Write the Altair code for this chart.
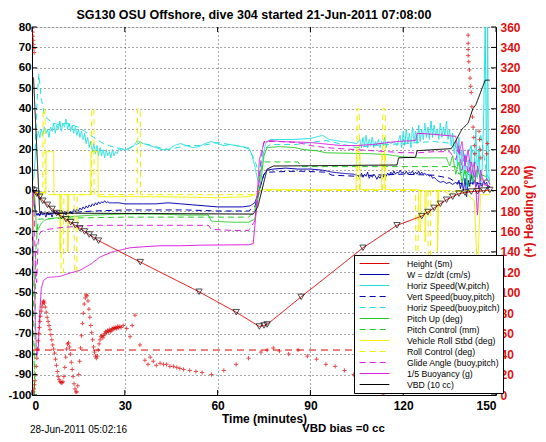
import altair as alt
import pandas as pd

TITLE = "SG130 OSU Offshore, dive 304 started 21-Jun-2011 07:08:00"
X_TITLE = "Time (minutes)"
Y2_TITLE = "(+) Heading (°M)"
FOOT_LEFT = "28-Jun-2011 05:02:16"
FOOT_RIGHT = "VBD bias =0 cc"

x_ticks = [0, 30, 60, 90, 120, 150]
left_ticks = list(range(-100, 81, 10))
right_ticks = list(range(0, 361, 20))
target_heading = [44]

series_names = ["Height (5m)", "W = dz/dt (cm/s)", "Horiz Speed(W,pitch)",
                "Vert Speed(buoy,pitch)", "Horiz Speed(buoy,pitch)", "Pitch Up (deg)",
                "Pitch Control (mm)", "Vehicle Roll Stbd (deg)", "Roll Control (deg)",
                "Glide Angle (buoy,pitch)", "1/5 Buoyancy (g)", "VBD (10 cc)"]
series_colors = ["#e00000", "#0000b0", "#22e0e0", "#0000b0", "#22e0e0", "#22cc22",
                 "#22cc22", "#f0f000", "#f0f000", "#e020e0", "#e020e0", "#000000"]
series_dash = [[1, 0], [1, 0], [1, 0], [6, 4], [6, 4], [1, 0],
               [6, 4], [1, 0], [6, 4], [6, 4], [1, 0], [1, 0]]

height = [(0, 0.5), (0.7, 0), (1.5, -1.5), (2.5, -3), (3.5, -5), (5, -7), (6.5, -9),
          (8, -11), (9.5, -12.5), (11, -14), (12.5, -15.5), (14, -17), (15.5, -18.5),
          (17, -20), (18.5, -21.5), (20, -23), (21.5, -24.5), (35, -35), (54, -49.5),
          (66, -59.5), (73.5, -66.5), (75, -66), (76, -65.5), (87, -52), (107, -28),
          (118, -17), (126, -12.5), (128, -10.5), (130, -8.5), (132, -6.5), (134, -4.5),
          (136, -3), (138, -1.5), (140, -1), (142, -0.5), (144, -0.3), (146, 0), (148, 0.3)]

w_speed = [(0, 0), (0.5, -3), (1, -9), (1.5, -12), (2, -11), (2.5, -12.5), (3, -10), (3.5, -12),
           (4, -11), (4.5, -13), (5, -10.5), (5.5, -12), (6, -11), (6.5, -13), (7, -10),
           (7.5, -11.5), (8, -10), (8.5, -12), (9, -11), (9.5, -9.5), (10, -11), (10.5, -10),
           (11, -12), (11.5, -9.5), (12, -11), (12.5, -10), (13, -11.5), (13.5, -9), (14, -10.5),
           (14.5, -9), (15, -10), (15.5, -8.5), (16, -9.5), (16.5, -8), (17, -9), (17.5, -7.5),
           (18, -8.5), (18.5, -7), (19, -8), (19.5, -6.5), (20, -7.5), (20.5, -6), (21, -7),
           (21.5, -5.5), (22, -6.5), (22.5, -5.5), (23, -6), (23.5, -5), (24, -6), (24.5, -5.5),
           (25, -6), (26, -6), (28, -6), (30, -6.5), (33, -6.5), (36, -6.5), (40, -6.5),
           (44, -6), (48, -6.5), (52, -7), (56, -7.5), (60, -8), (64, -8), (68, -8), (70.5, -7.5),
           (72, -6), (73, -2), (74, 3), (75, 8), (76, 10), (78, 10.5), (82, 11), (86, 10.5),
           (90, 10.5), (94, 10), (97, 9), (100, 8.5), (104, 8), (106, 7), (106.5, 8.5), (107, 6.5),
           (107.5, 8), (108, 7), (108.5, 9), (109, 6), (109.5, 7.5), (110, 6.5), (110.5, 8),
           (111, 7), (111.5, 5.5), (112, 7), (112.5, 6), (113, 7.5), (113.5, 6.5), (114, 8),
           (114.5, 7), (115, 8.5), (115.5, 7.5), (116, 9), (116.5, 8), (117, 9.5), (117.5, 8),
           (118, 9), (118.5, 8.5), (119, 10), (119.5, 8.5), (120, 9), (120.5, 8), (121, 9.5),
           (121.5, 8), (122, 9), (122.5, 8.5), (123, 9.5), (123.5, 8), (124, 9), (124.5, 8),
           (125, 9.5), (125.5, 8), (126, 9), (126.5, 8), (127, 8.5), (127.5, 7.5), (128, 8),
           (128.5, 7), (129, 7.5), (129.5, 6), (130, 6.5), (131, 5), (132, 4), (133, 4.5),
           (134, 3.5), (135, 4), (136, 3), (137, 4), (137.5, 3), (138, 5), (138.5, 1), (139, 4),
           (139.5, 0), (140, 6), (140.5, -3), (141, 5), (141.5, 2), (142, 8), (142.5, 3),
           (143, 5), (143.5, 2), (144, 4), (144.5, 1), (145, 3), (145.5, 2), (146, 5), (146.5, 3),
           (147, 4), (147.5, 1), (148, 2)]

horiz_w = [(0.5, 5), (1, 15), (1.5, 25), (2, 29), (2.5, 26), (3, 30), (3.5, 27), (4, 31),
           (4.5, 28), (5, 30), (5.5, 26), (6, 31), (6.5, 29), (7, 33), (7.5, 28), (8, 32),
           (8.5, 30), (9, 34), (9.5, 29), (10, 33), (10.5, 31), (11, 35), (11.5, 30), (12, 33),
           (12.5, 29), (13, 32), (13.5, 28), (14, 31), (14.5, 27), (15, 30), (15.5, 26), (16, 29),
           (16.5, 25), (17, 28), (17.5, 23), (18, 26), (18.5, 21), (19, 24), (19.5, 19), (20, 23),
           (20.5, 18), (21, 22), (21.5, 17), (22, 21), (22.5, 17), (23, 20), (23.5, 16), (24, 20),
           (24.5, 17), (25, 19), (25.5, 16), (26, 20), (26.5, 17), (27, 19), (27.5, 18), (28, 20),
           (29, 20), (31, 20), (33, 22), (34, 24.5), (36, 23), (38, 22), (40, 21), (42, 20),
           (44, 20), (46, 22), (48, 23), (50, 22), (52, 21), (54, 21.5), (56, 23), (58, 24),
           (60, 23), (62, 22), (64, 22.5), (66, 22), (68, 21.5), (70, 21), (71, 18), (72, 12),
           (73, 5), (73.5, 4), (74.5, 15), (75.5, 23), (77, 25), (80, 25), (85, 25), (90, 25.5),
           (94, 27), (96, 25), (100, 24), (103, 23.5), (105, 23), (106, 25), (106.5, 21),
           (107, 26), (107.5, 22), (108, 27), (108.5, 21), (109, 25), (109.5, 22), (110, 26),
           (110.5, 21), (111, 24), (111.5, 22), (112, 25), (112.5, 21), (113, 24), (113.5, 22),
           (114, 26), (114.5, 21), (115, 24), (116, 23), (117, 24), (118, 22), (119, 27),
           (119.5, 21), (120, 29), (120.5, 22), (121, 30), (121.5, 23), (122, 28), (122.5, 21),
           (123, 31), (123.5, 24), (124, 29), (124.5, 23), (125, 32), (125.5, 24), (126, 30),
           (126.5, 25), (127, 33), (127.5, 26), (128, 31), (128.5, 25), (129, 34), (129.5, 26),
           (130, 32), (130.5, 27), (131, 30), (131.5, 25), (132, 33), (132.5, 26), (133, 31),
           (133.5, 27), (134, 34), (134.5, 25), (135, 30), (135.5, 22), (136, 28), (136.5, 18),
           (137, 24), (137.5, 12), (138, 26), (138.5, 8), (139, 20), (139.5, 5), (140, 18),
           (140.5, 2), (141, 15), (141.5, 6), (142, 22), (142.5, 4), (143, 12), (143.5, 30),
           (144, 6), (144.5, 20), (145, 3), (145.5, 10), (146, 35), (146.5, 80), (147, 5),
           (147.3, 80), (147.6, 10), (148, 3)]

vert_buoy = [(0.5, -2), (1, -9), (1.5, -12), (3, -11.5), (6, -11.5), (10, -11), (15, -10.5),
             (20, -10), (30, -9.5), (40, -9.5), (50, -9.5), (60, -10), (70, -10), (72, -8),
             (73, -3), (74, 3), (75, 8), (76, 9), (86, 9.5), (95, 9), (97, 7.5), (105, 7),
             (110, 7.5), (120, 8), (130, 7.5), (135, 6), (137, 4), (140, 3), (143, 4), (146, 3),
             (148, 2)]

horiz_buoy = [(1, 20), (1.7, 45), (2.2, 57), (3, 45), (4, 37), (5, 35), (7, 33), (9, 32),
              (11, 33), (13, 32), (15, 31), (17, 29), (19, 27), (21, 25), (23, 23), (25, 22),
              (27, 21), (29, 20.5), (31, 20.5), (33, 22), (35, 23.5), (40, 21.5), (44, 20),
              (50, 22), (55, 22), (60, 23.5), (66, 22), (70, 20.5), (72, 15), (73.5, 8),
              (75, 20), (77, 22.5), (85, 22.5), (95, 24.5), (105, 21), (110, 22), (120, 23),
              (130, 24), (136, 23), (138, 20), (140, 15), (142, 22), (144, 10), (145, 28),
              (147, 8), (148, 5)]

pitch_up = [(0.5, 0), (1, -5), (1.5, -21), (2, -19), (3, -16), (4, -14.5), (5, -14), (7, -13.5),
            (10, -13), (15, -12.5), (20, -12), (30, -11.5), (40, -11.5), (50, -12), (57, -12),
            (58, -15), (65, -15.5), (70, -15.5), (72, -14), (73, -5), (74, 5), (75, 17),
            (76, 21), (80, 21.5), (85, 21), (88, 20), (92, 19.5), (95, 18.5), (100, 18.3),
            (110, 18), (115, 17.5), (120, 16.5), (125, 16), (130, 16), (134, 16), (135, 12),
            (136, 17), (137, 8), (138, 14), (139, 4), (140, 10), (141, 2), (142, 8), (143, 4),
            (144, 10), (145, 6), (146, 5), (148, 5)]

pitch_ctl = [(0, 0), (0.5, -60), (0.8, -100), (1.2, -30), (2, -14), (10, -13.5), (30, -13),
             (57, -13), (70, -13), (72, -10), (73, 0), (74, 10), (75, 14), (86, 14), (87, 11.7),
             (137, 11.7), (138, 8), (140, 10), (142, 6), (145, 8), (148, 6)]

roll = [(0, 0), (0.3, -20), (0.6, -3), (1, -1), (4.5, -1), (4.6, 19), (7, 19), (7.1, -2),
        (9, -2), (9.1, -30), (9.4, -2), (11.5, -2), (11.6, -30), (11.9, -2), (19, -2),
        (19.1, 19), (21.3, 19), (21.4, -3), (40, -3), (60, -3.5), (70, -3), (72, -2), (74, 0),
        (75, 0.5), (90, 0.5), (104.8, 0.5), (104.9, 19), (106, 19), (106.1, 0.5), (113, 0.5),
        (113.1, 19), (114, 19), (114.1, 0.5), (125, 0.5), (125.1, -20), (125.6, -20),
        (125.7, 0), (127, 0), (127.1, -25), (127.5, 0), (131, 0), (131.1, -30), (131.5, 0),
        (133, 0), (135, -2), (137, 0), (140, -1), (143, -5), (144, -40), (145, -2), (148, -2)]

roll_ctl = [(0, 0), (1, -2), (3.5, -2), (3.6, 40), (4.2, 40), (4.3, -2), (9.3, -2), (9.4, -40),
            (10.2, -40), (10.3, -2), (13.6, -2), (13.7, -40), (14.5, -40), (14.6, -2),
            (19.2, -2), (19.3, 40), (20, 40), (20.1, -2), (34, -2), (34.1, 40), (35, 40),
            (35.1, -2), (72, -2), (74, 0), (105, 0), (105.1, 40), (105.8, 40), (105.9, 0),
            (113.3, 0), (113.4, 40), (114.2, 40), (114.3, 0), (124, 0), (124.1, -30),
            (124.8, -30), (124.9, 0), (128, 0), (128.1, -40), (128.8, -40), (128.9, 0),
            (148, 0)]

glide = [(0.5, 0), (1, -30), (1.5, -45), (2, -25), (2.5, -21), (3, -20), (5, -19), (10, -18),
         (15, -17.5), (20, -17), (30, -17), (40, -17), (50, -17), (57, -17), (58, -19),
         (65, -19.5), (70, -19.5), (72, -15), (73, -3), (74, 15), (75, 24), (80, 24),
         (86, 23.5), (90, 22), (95, 21), (100, 20.5), (105, 20), (110, 19.5), (115, 19),
         (120, 18.5), (125, 18.5), (130, 19), (135, 19), (137, 15), (138, 22), (139, 10),
         (140, 18), (141, 8), (142, 14), (143, 6), (144, 12), (145, 5), (146, 3), (148, 2)]

buoyancy = [(0, 0), (0.5, -30), (1, -60), (1.5, -81), (2, -78), (2.5, -60), (3, -48),
            (3.7, -44), (5, -42.5), (9, -42), (12, -40.5), (15.5, -39), (19, -36), (22, -32.5),
            (26, -30), (31.7, -28), (36, -27.5), (41.4, -27), (48, -27), (55, -26.7),
            (62, -26.6), (70, -26.5), (71.5, -26), (72.5, -10), (73.5, 15), (75, 23.5),
            (77, 24.5), (80, 24), (90, 23.5), (100, 22), (105, 22), (110, 22.5), (118, 24),
            (124, 24.5), (124.5, 28), (130, 27.5), (137, 26.5), (138, 18), (139, 24),
            (140, 12), (141, 20), (142, 8), (143, 14), (144, -12), (145, 10), (146, 4),
            (147, 6), (148, 3)]

vbd = [(0, 56), (0.5, 55), (2.5, -11), (71.5, -11.5), (73, -8), (76, 10.5), (78, 12),
       (118, 12.5), (118.5, 16), (124, 16.3), (124.5, 19.5), (135.5, 20.5), (136.5, 23),
       (139, 30), (141, 33), (142.5, 40), (143.5, 42), (145, 48), (146.5, 54), (148, 54)]

heading = [(0.1, 359), (0.2, 355), (0.3, 351), (0.4, 347), (0.5, 343), (0.6, 339), (0.7, 335),
           (0.45, 3), (0.6, 6), (0.8, 10), (1.0, 14), (1.2, 20), (1.4, 28), (1.6, 36), (1.8, 45),
           (2.0, 53), (2.2, 60), (2.4, 66), (2.6, 72), (2.8, 77), (3.0, 82), (3.2, 86),
           (3.4, 89), (3.6, 91), (3.8, 92), (4.0, 90), (4.3, 86), (4.6, 81), (4.9, 76),
           (5.2, 72), (5.5, 68), (5.8, 64), (6.1, 59), (6.4, 54), (6.7, 49), (7.0, 45),
           (7.3, 41), (7.6, 35), (7.9, 29), (8.2, 23), (8.5, 18), (8.8, 15), (9.1, 13),
           (9.4, 12), (9.7, 12), (10.0, 13), (10.3, 18), (10.6, 27), (10.9, 37), (11.2, 45),
           (11.5, 50), (11.8, 51), (12.1, 47), (12.4, 40), (12.7, 32), (13.0, 25), (13.3, 18),
           (13.6, 11), (13.9, 6), (14.2, 3), (14.5, 3), (14.8, 9), (15.1, 20), (15.4, 33),
           (15.7, 46), (16.0, 58), (16.3, 70), (16.6, 80), (16.9, 89), (17.2, 95), (17.5, 98),
           (17.8, 97), (18.1, 92), (18.4, 84), (18.7, 76), (19.0, 68), (19.3, 61), (19.6, 54),
           (19.9, 47), (20.2, 42), (20.5, 38), (20.8, 36), (21.1, 38), (21.4, 44), (21.7, 50),
           (22.0, 54), (22.3, 57), (22.6, 58), (22.9, 56), (23.2, 58), (23.5, 60), (23.8, 62),
           (24.1, 61), (24.4, 63), (24.7, 62), (25.0, 64), (25.3, 62), (25.6, 63), (25.9, 65),
           (26.2, 64), (26.5, 66), (26.8, 65), (27.1, 66), (27.4, 65), (27.7, 67), (28.0, 66),
           (28.4, 67), (28.8, 66), (29.5, 68), (30.6, 65), (31.7, 57), (32.4, 68), (33.3, 78),
           (34.9, 49), (36.5, 34), (37.5, 30), (38.2, 37), (39.2, 33), (40.2, 29), (41.4, 31),
           (42.5, 30), (43.5, 30), (44.6, 28), (45.7, 28), (46.8, 27), (47.8, 26), (49, 25),
           (51, 24), (53, 23), (55, 22), (58, 20), (62, 24), (66, 30), (70, 36), (74, 42),
           (76, 44), (78, 46), (80, 43), (83, 40), (86, 44), (89, 38), (92, 35), (95, 30),
           (98, 28), (101, 24), (104, 20), (107, 18), (110, 14), (112, 8), (113, 4), (113.5, 0),
           (141, 352), (141, 344), (141, 338), (141, 332), (141.2, 326), (141.4, 318),
           (141.6, 310), (141.8, 302), (142, 296), (142.2, 282), (142.4, 272), (142.6, 262),
           (142.8, 252), (143, 244), (143.2, 236), (144.5, 258), (144.7, 250), (144.9, 240),
           (145.1, 232), (147, 236), (147.2, 246)]

series_data = [height, w_speed, horiz_w, vert_buoy, horiz_buoy, pitch_up, pitch_ctl,
               roll, roll_ctl, glide, buoyancy, vbd]

rows = []
for k, (name, pts) in enumerate(zip(series_names, series_data)):
    for i, (t, v) in enumerate(pts):
        rows.append({"series": name, "k": k, "i": i, "t": t, "v": v})
df = pd.DataFrame(rows)
df_main = df[df["k"] != 0]
df_height = df[df["k"] == 0]
df_head = pd.DataFrame(heading, columns=["t", "h"])

W, H = 464, 368
FONT = "Liberation Sans"

xs = alt.Scale(domain=[0, 150], nice=False, zero=False)
ys = alt.Scale(domain=[-100, 80], nice=False, zero=False)
hs = alt.Scale(domain=[0, 360], nice=False, zero=False)

x_enc = alt.X("t:Q", scale=xs, axis=alt.Axis(
    values=x_ticks, title=X_TITLE, grid=True, gridDash=[1, 3], gridColor="#000000",
    gridOpacity=0.7, tickSize=0, labelPadding=5, labelFontSize=12, labelFontWeight="bold",
    labelFont=FONT, titleFont=FONT, titleFontSize=12, titleFontWeight="bold",
    titlePadding=2, domainColor="black", labelColor="black", titleColor="black"))

legend = alt.Legend(title=None, orient="none", legendX=322, legendY=228,
                    symbolType="M-3.3,0H3.3", symbolSize=81, symbolStrokeWidth=1.2,
                    symbolOffset=12, labelOffset=27, labelFont=FONT, labelFontSize=8.7,
                    labelColor="black", labelLimit=0, rowPadding=0, padding=3,
                    fillColor="white", strokeColor="black", symbolFillColor="transparent")

left_axis = alt.Axis(
    values=left_ticks, title=None, grid=True, gridDash=[1, 3], gridColor="#000000",
    gridOpacity=0.7, tickSize=0, labelPadding=1, labelFontSize=11.5,
    labelFontWeight="bold", labelFont=FONT, domainColor="black", labelColor="black",
    labelExpr="replace(datum.label, '\u2212', '-')")

def line_layer(data, axis):
    return alt.Chart(data).mark_line(strokeWidth=1, clip=True).encode(
        x=x_enc,
        y=alt.Y("v:Q", scale=ys, axis=axis),
        color=alt.Color("series:N", scale=alt.Scale(domain=series_names, range=series_colors),
                        legend=legend),
        strokeDash=alt.StrokeDash("series:N",
                                  scale=alt.Scale(domain=series_names, range=series_dash),
                                  legend=legend),
        detail="series:N",
        order="i:Q",
    )

main_lines = line_layer(df_main, left_axis)
height_line = line_layer(df_height, None)

markers = alt.Chart(df_height).mark_point(
    shape="triangle-down", size=40, filled=False, color="black", strokeWidth=1,
    clip=True).encode(x=x_enc, y=alt.Y("v:Q", scale=ys, axis=None))

head_pts = alt.Chart(df_head).mark_point(
    shape="M-1,0H1M0,-1V1", size=18, filled=False, color="#dd0000", strokeWidth=1,
    clip=True).encode(
    x=x_enc,
    y=alt.Y("h:Q", scale=hs, axis=alt.Axis(
        orient="right", values=right_ticks, title=Y2_TITLE, grid=False, tickSize=0,
        labelPadding=4, labelFontSize=12, labelFontWeight="bold", labelFont=FONT,
        labelColor="#dd1111", titleColor="#dd1111", titleFont=FONT, titleFontSize=12,
        titleFontWeight="bold", titleAngle=270, titlePadding=15, domainColor="black")))

target = alt.Chart(pd.DataFrame({"h": target_heading})).mark_rule(
    color="#dd0000", strokeDash=[7, 5], strokeWidth=1).encode(
    y=alt.Y("h:Q", scale=hs, axis=None))

lt = pd.DataFrame({"v": left_ticks})
rt = pd.DataFrame({"h": right_ticks})
xt = pd.DataFrame({"t": x_ticks})
tick_left = alt.Chart(lt).mark_rule(color="black").encode(
    x=alt.value(0), x2=alt.value(5), y=alt.Y("v:Q", scale=ys, axis=None))
tick_right = alt.Chart(rt).mark_rule(color="black").encode(
    x=alt.value(W - 5), x2=alt.value(W), y=alt.Y("h:Q", scale=hs, axis=None))
tick_bottom = alt.Chart(xt).mark_rule(color="black").encode(
    x=x_enc, y=alt.value(H - 5), y2=alt.value(H))
tick_top = alt.Chart(xt).mark_rule(color="black").encode(
    x=x_enc, y=alt.value(0), y2=alt.value(5))

foot_left = alt.Chart(pd.DataFrame({"s": [FOOT_LEFT]})).mark_text(
    align="left", baseline="middle", font=FONT, fontSize=10, color="black").encode(
    text="s:N", x=alt.value(-2), y=alt.value(403))
foot_right = alt.Chart(pd.DataFrame({"s": [FOOT_RIGHT]})).mark_text(
    align="left", baseline="middle", font=FONT, fontSize=11.5, fontWeight="bold",
    color="black").encode(text="s:N", x=alt.value(270), y=alt.value(402))

chart = alt.layer(
    main_lines, height_line, markers, head_pts, target,
    tick_left, tick_right, tick_bottom, tick_top, foot_left, foot_right
).resolve_scale(y="independent").properties(
    width=W, height=H,
    title=alt.TitleParams(TITLE, font=FONT, fontSize=12.5, fontWeight="bold", color="black",
                          anchor="middle", dx=-10, offset=0),
    autosize=alt.AutoSizeParams(type="none"),
    padding={"left": 24, "top": 19, "right": 42, "bottom": 39},
).configure_view(stroke="black", strokeWidth=1).configure(background="white")

chart.save("out.html", embed_options={"renderer": "svg", "actions": False})
